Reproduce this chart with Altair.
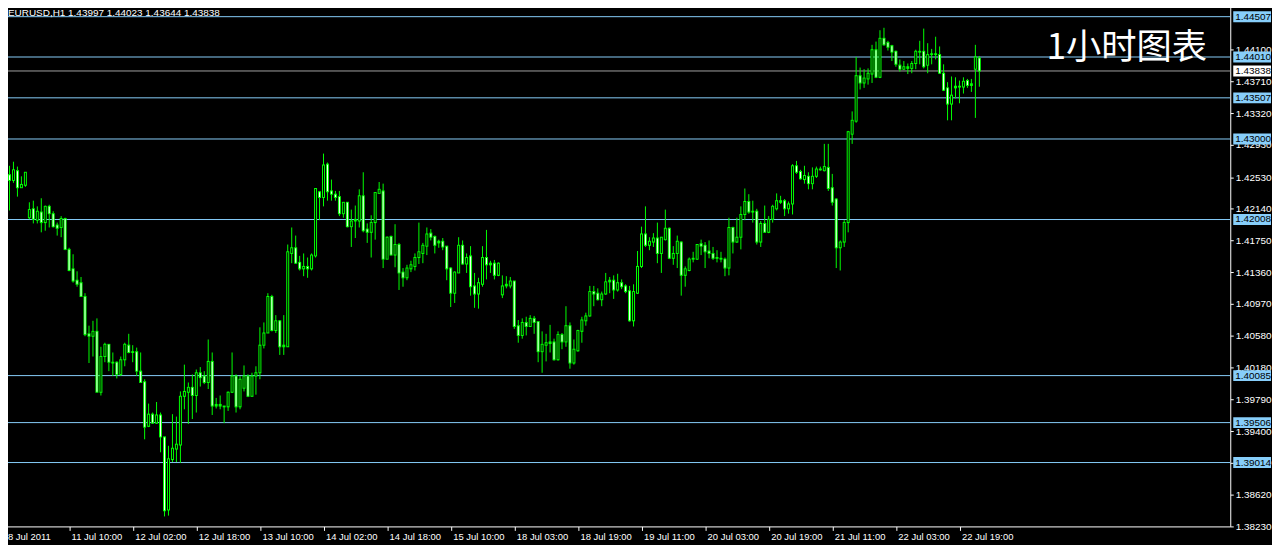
import json
import altair as alt
import pandas as pd

# ---------------- data (EURUSD H1) ----------------
opens = [
    1.4326, 1.4256, 1.4249, 1.4261, 1.4240, 1.4243, 1.4203, 1.4214, 1.4200, 1.4210,
    1.4197, 1.4217, 1.4208, 1.4194, 1.4191, 1.4202, 1.4164, 1.4140, 1.4126, 1.4123,
    1.4106, 1.4060, 1.4057, 1.4063, 1.3988, 1.4032, 1.4047, 1.4025, 1.4025, 1.4010,
    1.4028, 1.4046, 1.4037, 1.4038, 1.4014, 1.4001, 1.3946, 1.3961, 1.3950, 1.3960,
    1.3933, 1.3843, 1.3905, 1.3918, 1.3923, 1.3983, 1.3988, 1.3994, 1.3984, 1.4012,
    1.4008, 1.4000, 1.4026, 1.3971, 1.3973, 1.3971, 1.3970, 1.3988, 1.4008, 1.3970,
    1.3993, 1.4008, 1.3983, 1.4008, 1.4012, 1.4046, 1.4061, 1.4106, 1.4064, 1.4076,
    1.4044, 1.4044, 1.4159, 1.4166, 1.4148, 1.4140, 1.4143, 1.4140, 1.4156, 1.4235,
    1.4228, 1.4269, 1.4236, 1.4232, 1.4229, 1.4208, 1.4222, 1.4192, 1.4199, 1.4199,
    1.4230, 1.4189, 1.4185, 1.4197, 1.4233, 1.4236, 1.4152, 1.4180, 1.4157, 1.4170,
    1.4136, 1.4129, 1.4140, 1.4143, 1.4154, 1.4159, 1.4168, 1.4184, 1.4180, 1.4172,
    1.4174, 1.4168, 1.4141, 1.4110, 1.4135, 1.4169, 1.4146, 1.4156, 1.4119, 1.4109,
    1.4121, 1.4154, 1.4145, 1.4147, 1.4132, 1.4108, 1.4119, 1.4119, 1.4125, 1.4070,
    1.4058, 1.4074, 1.4069, 1.4079, 1.4075, 1.4038, 1.4046, 1.4048, 1.4050, 1.4028,
    1.4059, 1.4050, 1.4070, 1.4024, 1.4039, 1.4063, 1.4076, 1.4082, 1.4112, 1.4110,
    1.4102, 1.4109, 1.4124, 1.4126, 1.4114, 1.4123, 1.4119, 1.4113, 1.4076, 1.4110,
    1.4143, 1.4183, 1.4169, 1.4173, 1.4178, 1.4159, 1.4176, 1.4190, 1.4153, 1.4159,
    1.4173, 1.4132, 1.4138, 1.4152, 1.4152, 1.4171, 1.4169, 1.4162, 1.4159, 1.4153,
    1.4153, 1.4152, 1.4141, 1.4191, 1.4173, 1.4179, 1.4207, 1.4223, 1.4210, 1.4211,
    1.4173, 1.4196, 1.4185, 1.4201, 1.4214, 1.4224, 1.4224, 1.4214, 1.4220, 1.4267,
    1.4260, 1.4250, 1.4254, 1.4245, 1.4254, 1.4263, 1.4261, 1.4265, 1.4240, 1.4226,
    1.4166, 1.4173, 1.4197, 1.4306, 1.4322, 1.4378, 1.4369, 1.4374, 1.4380, 1.4410,
    1.4376, 1.4424, 1.4419, 1.4415, 1.4408, 1.4391, 1.4386, 1.4389, 1.4387, 1.4393,
    1.4408, 1.4408, 1.4391, 1.4404, 1.4405, 1.4404, 1.4381, 1.4363, 1.4343, 1.4363,
    1.4365, 1.4364, 1.4372, 1.4366, 1.4386, 1.43997,
]
highs = [
    1.4332, 1.4267, 1.4272, 1.4266, 1.4254, 1.4259, 1.4222, 1.4224, 1.4217, 1.4227,
    1.4218, 1.4219, 1.4211, 1.4197, 1.4205, 1.4203, 1.4166, 1.4158, 1.4137, 1.4130,
    1.4110, 1.4070, 1.4076, 1.4079, 1.4044, 1.4049, 1.4047, 1.4037, 1.4026, 1.4032,
    1.4049, 1.4060, 1.4046, 1.4043, 1.4037, 1.4004, 1.3974, 1.3963, 1.3976, 1.3963,
    1.3933, 1.3922, 1.3961, 1.3958, 1.3989, 1.4022, 1.4000, 1.4010, 1.4016, 1.4019,
    1.4014, 1.4053, 1.4037, 1.3981, 1.3984, 1.3971, 1.3989, 1.4037, 1.4010, 1.4008,
    1.4021, 1.4010, 1.4012, 1.4020, 1.4068, 1.4074, 1.4110, 1.4108, 1.4083, 1.4077,
    1.4083, 1.4170, 1.4191, 1.4181, 1.4156, 1.4159, 1.4154, 1.4159, 1.4239, 1.4236,
    1.4282, 1.4271, 1.4250, 1.4236, 1.4236, 1.4222, 1.4222, 1.4213, 1.4218, 1.4238,
    1.4259, 1.4196, 1.4206, 1.4234, 1.4247, 1.4245, 1.4180, 1.4181, 1.4195, 1.4172,
    1.4141, 1.4145, 1.4150, 1.4159, 1.4197, 1.4172, 1.4191, 1.4189, 1.4181, 1.4176,
    1.4178, 1.4168, 1.4142, 1.4137, 1.4179, 1.4175, 1.4159, 1.4168, 1.4135, 1.4129,
    1.4168, 1.4188, 1.4150, 1.4151, 1.4148, 1.4132, 1.4131, 1.4130, 1.4125, 1.4077,
    1.4079, 1.4081, 1.4083, 1.4082, 1.4075, 1.4063, 1.4060, 1.4071, 1.4054, 1.4063,
    1.4061, 1.4094, 1.4074, 1.4053, 1.4065, 1.4081, 1.4086, 1.4119, 1.4119, 1.4116,
    1.4112, 1.4135, 1.4130, 1.4132, 1.4134, 1.4127, 1.4121, 1.4119, 1.4121, 1.4162,
    1.4192, 1.4217, 1.4179, 1.4184, 1.4197, 1.4179, 1.4213, 1.4191, 1.4168, 1.4181,
    1.4174, 1.4143, 1.4154, 1.4161, 1.4170, 1.4176, 1.4173, 1.4175, 1.4167, 1.4163,
    1.4161, 1.4154, 1.4203, 1.4192, 1.4203, 1.4217, 1.4239, 1.4232, 1.4224, 1.4214,
    1.4199, 1.4218, 1.4205, 1.4219, 1.4233, 1.4230, 1.4226, 1.4223, 1.4269, 1.4273,
    1.4262, 1.4267, 1.4259, 1.4265, 1.4266, 1.4266, 1.4294, 1.4294, 1.4257, 1.4227,
    1.4175, 1.4200, 1.4310, 1.4334, 1.4401, 1.4388, 1.4386, 1.4387, 1.4416, 1.4420,
    1.4434, 1.4437, 1.4421, 1.4416, 1.4409, 1.4398, 1.4396, 1.4393, 1.4396, 1.4410,
    1.4421, 1.4436, 1.4418, 1.4411, 1.4426, 1.4414, 1.4392, 1.4370, 1.4377, 1.4376,
    1.4372, 1.4376, 1.4374, 1.4374, 1.4416, 1.44023,
]
lows = [
    1.4251, 1.4212, 1.4246, 1.4229, 1.4240, 1.4241, 1.4201, 1.4196, 1.4196, 1.4185,
    1.4187, 1.4191, 1.4191, 1.4181, 1.4179, 1.4163, 1.4137, 1.4123, 1.4118, 1.4106,
    1.4057, 1.4024, 1.4032, 1.3988, 1.3984, 1.4025, 1.4014, 1.4008, 1.4005, 1.4008,
    1.4020, 1.4036, 1.4025, 1.4008, 1.4000, 1.3930, 1.3945, 1.3949, 1.3949, 1.3914,
    1.3835, 1.3836, 1.3902, 1.3902, 1.3901, 1.3967, 1.3949, 1.3955, 1.3963, 1.3995,
    1.3998, 1.3992, 1.3960, 1.3968, 1.3967, 1.3950, 1.3965, 1.3987, 1.3963, 1.3967,
    1.3989, 1.3982, 1.3983, 1.3985, 1.4004, 1.4042, 1.4061, 1.4063, 1.4061, 1.4034,
    1.4034, 1.4044, 1.4147, 1.4146, 1.4138, 1.4131, 1.4129, 1.4138, 1.4154, 1.4200,
    1.4217, 1.4224, 1.4224, 1.4224, 1.4205, 1.4203, 1.4191, 1.4167, 1.4178, 1.4191,
    1.4185, 1.4172, 1.4154, 1.4176, 1.4233, 1.4141, 1.4152, 1.4157, 1.4142, 1.4114,
    1.4118, 1.4126, 1.4136, 1.4138, 1.4146, 1.4147, 1.4157, 1.4175, 1.4159, 1.4166,
    1.4163, 1.4126, 1.4093, 1.4098, 1.4135, 1.4145, 1.4135, 1.4107, 1.4092, 1.4091,
    1.4118, 1.4127, 1.4135, 1.4127, 1.4131, 1.4104, 1.4116, 1.4116, 1.4066, 1.4049,
    1.4054, 1.4058, 1.4069, 1.4060, 1.4025, 1.4012, 1.4026, 1.4037, 1.4027, 1.4027,
    1.4041, 1.4044, 1.4017, 1.4022, 1.4038, 1.4049, 1.4070, 1.4081, 1.4094, 1.4101,
    1.4094, 1.4108, 1.4110, 1.4103, 1.4112, 1.4115, 1.4110, 1.4075, 1.4069, 1.4109,
    1.4141, 1.4167, 1.4163, 1.4167, 1.4147, 1.4135, 1.4175, 1.4152, 1.4145, 1.4141,
    1.4107, 1.4118, 1.4137, 1.4148, 1.4151, 1.4157, 1.4141, 1.4153, 1.4151, 1.4148,
    1.4148, 1.4131, 1.4132, 1.4159, 1.4172, 1.4164, 1.4200, 1.4208, 1.4197, 1.4170,
    1.4167, 1.4185, 1.4184, 1.4197, 1.4212, 1.4220, 1.4205, 1.4208, 1.4207, 1.4257,
    1.4250, 1.4245, 1.4238, 1.4238, 1.4252, 1.4261, 1.4260, 1.4236, 1.4218, 1.4141,
    1.4138, 1.4167, 1.4185, 1.4294, 1.4320, 1.4361, 1.4363, 1.4367, 1.4369, 1.4375,
    1.4375, 1.4415, 1.4409, 1.4396, 1.4389, 1.4383, 1.4385, 1.4380, 1.4381, 1.4386,
    1.4392, 1.4387, 1.4381, 1.4392, 1.4398, 1.4380, 1.4359, 1.4323, 1.4323, 1.4350,
    1.4344, 1.4356, 1.4363, 1.4358, 1.4326, 1.43644,
]
closes = [
    1.4257, 1.4249, 1.4262, 1.4240, 1.4244, 1.4259, 1.4213, 1.4201, 1.4211, 1.4197,
    1.4217, 1.4208, 1.4192, 1.4190, 1.4202, 1.4164, 1.4138, 1.4125, 1.4121, 1.4106,
    1.4059, 1.4057, 1.4063, 1.3988, 1.4032, 1.4047, 1.4025, 1.4024, 1.4010, 1.4028,
    1.4047, 1.4037, 1.4038, 1.4014, 1.4000, 1.3945, 1.3961, 1.3950, 1.3960, 1.3933,
    1.3842, 1.3906, 1.3919, 1.3924, 1.3983, 1.3989, 1.3994, 1.3984, 1.4012, 1.4006,
    1.4000, 1.4026, 1.3971, 1.3973, 1.3971, 1.3970, 1.3988, 1.4008, 1.3970, 1.4004,
    1.4008, 1.3983, 1.4008, 1.4012, 1.4046, 1.4061, 1.4106, 1.4064, 1.4076, 1.4044,
    1.4046, 1.4161, 1.4166, 1.4147, 1.4140, 1.4143, 1.4140, 1.4157, 1.4239, 1.4228,
    1.4268, 1.4235, 1.4232, 1.4228, 1.4208, 1.4222, 1.4192, 1.4199, 1.4201, 1.4230,
    1.4187, 1.4185, 1.4197, 1.4234, 1.4238, 1.4152, 1.4179, 1.4157, 1.4170, 1.4135,
    1.4129, 1.4141, 1.4145, 1.4154, 1.4161, 1.4169, 1.4183, 1.4179, 1.4169, 1.4174,
    1.4167, 1.4140, 1.4110, 1.4136, 1.4169, 1.4146, 1.4154, 1.4118, 1.4109, 1.4123,
    1.4154, 1.4145, 1.4147, 1.4132, 1.4147, 1.4119, 1.4121, 1.4125, 1.4069, 1.4058,
    1.4074, 1.4069, 1.4079, 1.4074, 1.4038, 1.4047, 1.4049, 1.4050, 1.4028, 1.4059,
    1.4050, 1.4070, 1.4024, 1.4041, 1.4064, 1.4077, 1.4082, 1.4112, 1.4109, 1.4102,
    1.4109, 1.4124, 1.4126, 1.4114, 1.4123, 1.4118, 1.4112, 1.4076, 1.4112, 1.4143,
    1.4183, 1.4169, 1.4174, 1.4178, 1.4159, 1.4179, 1.4190, 1.4153, 1.4159, 1.4174,
    1.4132, 1.4140, 1.4152, 1.4153, 1.4170, 1.4168, 1.4161, 1.4159, 1.4153, 1.4154,
    1.4152, 1.4141, 1.4191, 1.4173, 1.4179, 1.4207, 1.4223, 1.4210, 1.4211, 1.4173,
    1.4196, 1.4185, 1.4201, 1.4217, 1.4224, 1.4222, 1.4214, 1.4220, 1.4267, 1.4259,
    1.4251, 1.4255, 1.4245, 1.4254, 1.4263, 1.4262, 1.4266, 1.4239, 1.4222, 1.4166,
    1.4173, 1.4197, 1.4309, 1.4323, 1.4378, 1.4369, 1.4375, 1.4381, 1.4410, 1.4376,
    1.4424, 1.4416, 1.4413, 1.4407, 1.4392, 1.4386, 1.4389, 1.4387, 1.4393, 1.4408,
    1.4407, 1.4389, 1.4404, 1.4405, 1.4404, 1.4381, 1.4360, 1.4343, 1.4354, 1.4365,
    1.4364, 1.4371, 1.4366, 1.4368, 1.4401, 1.43838,
]
bar_index = list(range(len(opens)))

x_tick_bars = [0, 16, 32, 48, 64, 80, 96, 112, 128, 144, 160, 176, 192, 208, 224, 240]
x_tick_labels = [
    "8 Jul 2011", "11 Jul 10:00", "12 Jul 02:00", "12 Jul 18:00", "13 Jul 10:00",
    "14 Jul 02:00", "14 Jul 18:00", "15 Jul 10:00", "18 Jul 03:00", "18 Jul 19:00",
    "19 Jul 11:00", "20 Jul 03:00", "20 Jul 19:00", "21 Jul 11:00", "22 Jul 03:00",
    "22 Jul 19:00",
]
price_ticks = [
    1.44100, 1.43710, 1.43320, 1.42930, 1.42530, 1.42140, 1.41750, 1.41360,
    1.40970, 1.40580, 1.40180, 1.39790, 1.39400, 1.39010, 1.38620, 1.38230,
]
level_prices = [1.44507, 1.44010, 1.43507, 1.43000, 1.42008, 1.40085, 1.39506, 1.39014]
symbol = "EURUSD,H1"
chart_note = "1小时图表"

# ---------------- tables ----------------
df = pd.DataFrame({"i": bar_index, "o": opens, "h": highs, "l": lows, "c": closes})
levels_df = pd.DataFrame({"price": level_prices, "txt": [f"{p:.5f}" for p in level_prices]})
bid_df = pd.DataFrame({"price": [closes[-1]], "txt": [f"{closes[-1]:.5f}"]})
header_df = pd.DataFrame({"txt": [
    f"{symbol}  {opens[-1]:.5f} {highs[-1]:.5f} {lows[-1]:.5f} {closes[-1]:.5f}"
]})
note_df = pd.DataFrame({"txt": [chart_note]})

# ---------------- styling ----------------
PLOT_W, PLOT_H = 1238, 528
LIME = "#00ff00"
LEVEL = "#87cefa"
FONT = "Liberation Sans, Arial, sans-serif"

xs = alt.Scale(domain=[-1.375, 308.125], nice=False, zero=False)
ys = alt.Scale(domain=[1.38227, 1.44691], nice=False, zero=False)

label_expr = json.dumps(dict(zip([str(v) for v in x_tick_bars], x_tick_labels))) + "[datum.value]"

x_axis = alt.Axis(
    title=None, orient="bottom", values=x_tick_bars, labelExpr=label_expr, grid=False,
    domainColor="white", domainWidth=1, tickColor="white", tickSize=4, tickWidth=1,
    labelColor="white", labelFont=FONT, labelFontSize=9.5, labelAlign="left",
    labelBaseline="top", labelPadding=1, labelOffset=2, labelOverlap=False,
    labelFlush=False, zindex=0,
)
y_axis = alt.Axis(
    title=None, orient="right", values=price_ticks, format=".5f", grid=False,
    domainColor="white", domainWidth=1, tickColor="white", tickSize=3, tickWidth=1,
    labelColor="white", labelFont=FONT, labelFontSize=10, labelAlign="left",
    labelBaseline="middle", labelPadding=2, labelOverlap=False, labelFlush=False, zindex=0,
)

def Y(field):
    return alt.Y(field, scale=ys, axis=y_axis)

def X(field):
    return alt.X(field, scale=xs, axis=x_axis)

level_rules = alt.Chart(levels_df).mark_rule(color=LEVEL, strokeWidth=1).encode(y=Y("price:Q"))
bid_rule = alt.Chart(bid_df).mark_rule(color="#a0a0a0", strokeWidth=1).encode(y=Y("price:Q"))

wicks = alt.Chart(df).mark_rule(color=LIME, strokeWidth=1).encode(
    x=X("i:Q"), y=Y("l:Q"), y2="h:Q"
)
bodies = alt.Chart(df).transform_calculate(
    top="max(datum.o, datum.c)", bot="min(datum.o, datum.c)",
    xl="datum.i - 0.375", xr="datum.i + 0.375",
).mark_rect(color=LIME, yOffset=-0.5, y2Offset=0.5).encode(
    x=X("xl:Q"), x2="xr:Q", y=Y("top:Q"), y2="bot:Q"
)
inner = alt.Chart(df).transform_calculate(
    top="max(datum.o, datum.c)", bot="min(datum.o, datum.c)",
    xl="datum.i - 0.125", xr="datum.i + 0.125",
    fillc="datum.c < datum.o ? '#ffffff' : '#000000'",
).transform_filter("abs(datum.o - datum.c) >= 0.00024").mark_rect(
    yOffset=0.5, y2Offset=-0.5
).encode(
    x=X("xl:Q"), x2="xr:Q", y=Y("top:Q"), y2="bot:Q",
    color=alt.Color("fillc:N", scale=None),
)

level_boxes = alt.Chart(levels_df).mark_rect(color=LEVEL, yOffset=-5.5, y2Offset=5.5).encode(
    x=alt.value(1241), x2=alt.value(1279), y=Y("price:Q"), y2="price:Q"
)
level_text = alt.Chart(levels_df).mark_text(
    align="left", baseline="middle", font=FONT, fontSize=10, color="black"
).encode(x=alt.value(1243), y=Y("price:Q"), text="txt:N")

bid_box = alt.Chart(bid_df).mark_rect(color="white", yOffset=-5.5, y2Offset=5.5).encode(
    x=alt.value(1241), x2=alt.value(1279), y=Y("price:Q"), y2="price:Q"
)
bid_text = alt.Chart(bid_df).mark_text(
    align="left", baseline="middle", font=FONT, fontSize=10, color="black"
).encode(x=alt.value(1243), y=Y("price:Q"), text="txt:N")

header = alt.Chart(header_df).mark_text(
    align="left", baseline="alphabetic", font=FONT, fontSize=10, color="white"
).encode(x=alt.value(8), y=alt.value(14.5), text="txt:N")

note = alt.Chart(note_df).mark_text(
    align="left", baseline="alphabetic", font="Noto Sans CJK SC", fontSize=35.5, color="white"
).encode(x=alt.value(1053), y=alt.value(57.5), text="txt:N")

chart = alt.layer(
    level_rules, bid_rule, wicks, bodies, inner,
    level_boxes, level_text, bid_box, bid_text, header, note,
).properties(
    width=PLOT_W, height=PLOT_H,
    padding={"left": -8, "top": -8, "right": 42, "bottom": 17},
    autosize=alt.AutoSizeParams(type="none"),
    background="black",
).configure_view(stroke=None)

chart.save("out.html", embed_options={"renderer": "svg", "actions": False})
